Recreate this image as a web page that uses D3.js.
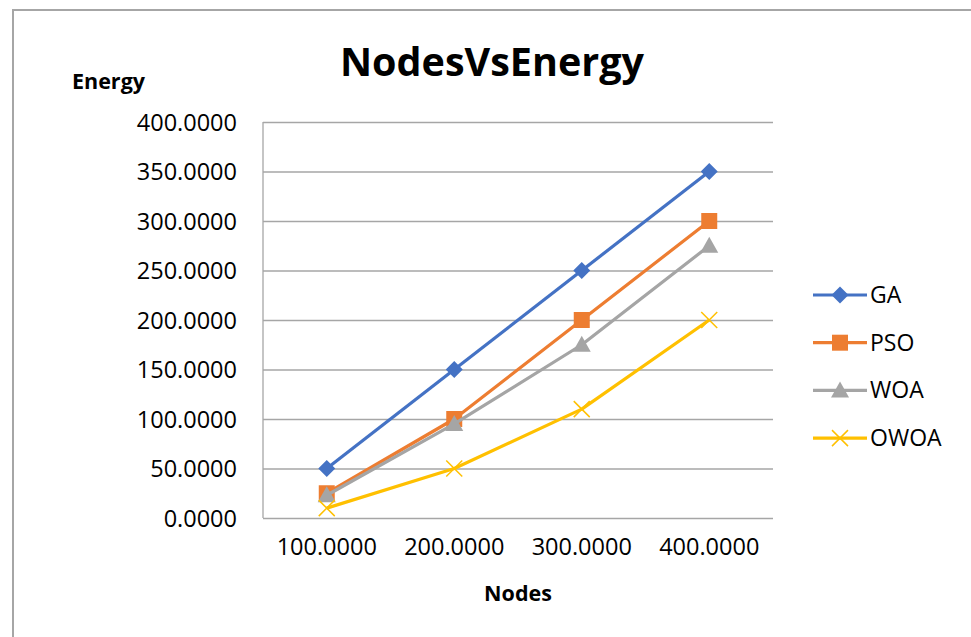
<!DOCTYPE html>
<html>
<head>
<meta charset="utf-8">
<script src="https://cdn.jsdelivr.net/npm/d3@7"></script>
<style>
  body { margin: 0; background: #fff; }
  text { font-family: "Open Sans", "Noto Sans", sans-serif; fill: #000; }
</style>
</head>
<body>
<svg id="chart" width="971" height="637"></svg>
<script>
// data
var nodes = [100, 200, 300, 400];
var seriesNames = ["GA", "PSO", "WOA", "OWOA"];
var gaValues = [50, 150, 250, 350];
var psoValues = [25, 100, 200, 300];
var woaValues = [23, 95, 175, 275];
var owoaValues = [10, 50, 110, 200];
var yTicks = [0, 50, 100, 150, 200, 250, 300, 350, 400];
var colors = ["#4472C4", "#ED7D31", "#A5A5A5", "#FFC000"];
var symbols = ["diamond", "square", "triangle", "cross"];

var series = seriesNames.map(function(name, i) {
    return { name: name, values: [gaValues, psoValues, woaValues, owoaValues][i],
             color: colors[i], symbol: symbols[i] };
});

var svg = d3.select("#chart");

// outer chart frame
svg.append("rect")
    .attr("x", 13).attr("y", 10)
    .attr("width", 1000).attr("height", 700)
    .attr("fill", "none").attr("stroke", "#a6a6a6").attr("stroke-width", 2);

var plot = { left: 263, right: 773, top: 122, bottom: 518 };

var x = d3.scaleBand()
    .domain(nodes)
    .range([plot.left, plot.right]);

var y = d3.scaleLinear()
    .domain([0, 400])
    .range([plot.bottom, plot.top]);

// gridlines + y labels
var yAxis = d3.axisLeft(y)
    .tickValues(yTicks)
    .tickSize(-(plot.right - plot.left))
    .tickFormat(function(d) { return d3.format(".4f")(d); })
    .tickPadding(26);

var gy = svg.append("g")
    .attr("transform", "translate(" + plot.left + ",0)")
    .call(yAxis);
gy.select(".domain").remove();
gy.selectAll(".tick line").attr("stroke", "#a6a6a6").attr("stroke-width", 1.3);
gy.selectAll(".tick text")
    .style("font-size", "23.5px")
    .attr("dy", "0.35em");

// vertical axis line
svg.append("line")
    .attr("x1", plot.left).attr("x2", plot.left)
    .attr("y1", plot.top).attr("y2", plot.bottom)
    .attr("stroke", "#a6a6a6").attr("stroke-width", 1.3);

// x axis labels
var xAxis = d3.axisBottom(x)
    .tickSize(0)
    .tickPadding(20)
    .tickFormat(function(d) { return d3.format(".4f")(d); });
var gx = svg.append("g")
    .attr("transform", "translate(0," + plot.bottom + ")")
    .call(xAxis);
gx.select(".domain").remove();
gx.selectAll(".tick text").style("font-size", "23.5px");

// lines
var line = d3.line()
    .x(function(d, i) { return x(nodes[i]) + x.bandwidth() / 2; })
    .y(function(d) { return y(d); });

function drawMarker(sel, s, cx, cy) {
    var d;
    if (s.symbol === "cross") {
        var r = 8;
        sel.append("path")
            .attr("d", "M" + (cx - r) + "," + (cy - r) + "L" + (cx + r) + "," + (cy + r) +
                       "M" + (cx - r) + "," + (cy + r) + "L" + (cx + r) + "," + (cy - r))
            .attr("stroke", s.color).attr("stroke-width", 1.5).attr("fill", "none");
        return;
    } else if (s.symbol === "diamond") {
        var h = 8.5;
        d = "M" + cx + "," + (cy - h) + "L" + (cx + h) + "," + cy + "L" + cx + "," + (cy + h) + "L" + (cx - h) + "," + cy + "Z";
    } else if (s.symbol === "square") {
        var q = 8;
        d = "M" + (cx - q) + "," + (cy - q) + "h" + (2 * q) + "v" + (2 * q) + "h" + (-2 * q) + "Z";
    } else {
        var w = 9, t = 9;
        d = "M" + cx + "," + (cy - t) + "L" + (cx + w) + "," + (cy + 7) + "L" + (cx - w) + "," + (cy + 7) + "Z";
    }
    sel.append("path").attr("d", d).attr("fill", s.color).attr("stroke", "none");
}

series.forEach(function(s) {
    var g = svg.append("g");
    g.append("path")
        .datum(s.values)
        .attr("d", line)
        .attr("fill", "none")
        .attr("stroke", s.color)
        .attr("stroke-width", 3.2)
        .attr("stroke-linejoin", "round");
    s.values.forEach(function(v, i) {
        drawMarker(g, s, x(nodes[i]) + x.bandwidth() / 2, y(v));
    });
});

// title and axis titles
svg.append("text")
    .attr("x", 492).attr("y", 76)
    .attr("text-anchor", "middle")
    .style("font-size", "39.5px").style("font-weight", "bold")
    .text("NodesVsEnergy");

svg.append("text")
    .attr("x", 72).attr("y", 89)
    .style("font-size", "21.5px").style("font-weight", "bold")
    .text("Energy");

svg.append("text")
    .attr("x", 518).attr("y", 601)
    .attr("text-anchor", "middle")
    .style("font-size", "21.5px").style("font-weight", "bold")
    .text("Nodes");

// legend
var legend = svg.append("g");
series.forEach(function(s, i) {
    var ly = 295 + i * 47.7;
    legend.append("line")
        .attr("x1", 813).attr("x2", 867)
        .attr("y1", ly).attr("y2", ly)
        .attr("stroke", s.color).attr("stroke-width", 3.2);
    drawMarker(legend, s, 840, ly);
    legend.append("text")
        .attr("x", 870).attr("y", ly)
        .attr("dy", "0.35em")
        .style("font-size", "23px")
        .text(s.name);
});
</script>
</body>
</html>
